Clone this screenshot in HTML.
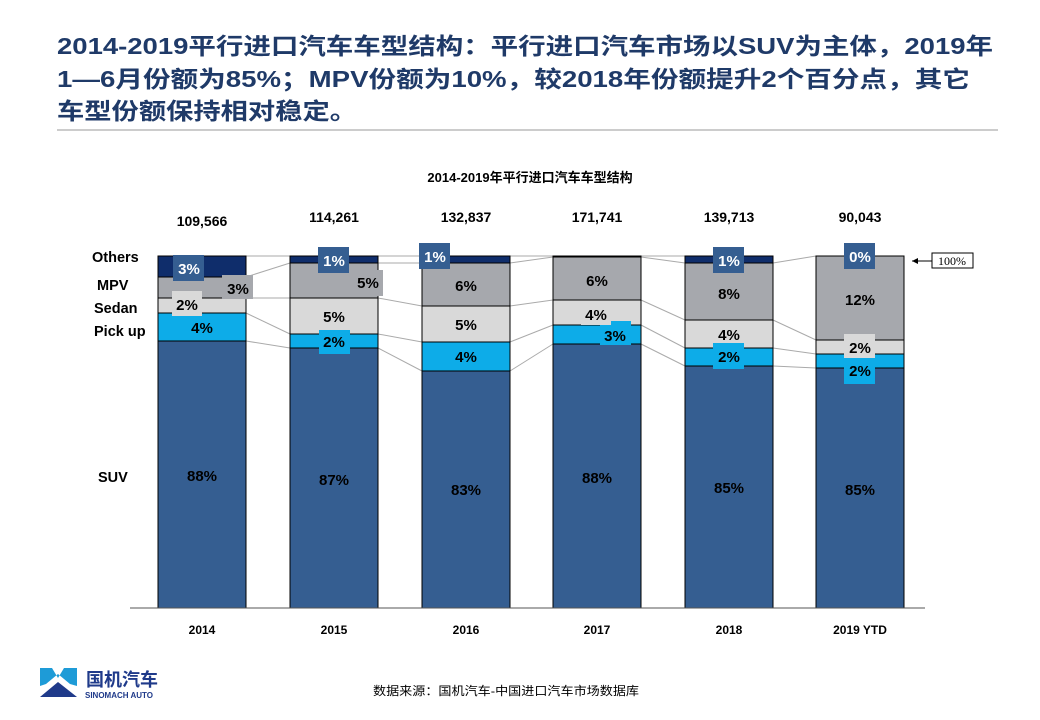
<!DOCTYPE html>
<html><head><meta charset="utf-8"><style>
body{margin:0;background:#fff;}
svg{display:block;font-family:"Liberation Sans","Noto Sans CJK SC",sans-serif;}
</style></head><body>
<svg width="1040" height="720" viewBox="0 0 1040 720">
<g font-size="23" font-weight="bold" fill="#1F3A68">
<text x="57" y="54" textLength="936" lengthAdjust="spacingAndGlyphs">2014-2019平行进口汽车车型结构：平行进口汽车市场以SUV为主体，2019年</text>
<text x="57" y="87" textLength="913" lengthAdjust="spacingAndGlyphs">1—6月份额为85%；MPV份额为10%，较2018年份额提升2个百分点，其它</text>
<text x="57" y="119" textLength="300" lengthAdjust="spacingAndGlyphs">车型份额保持相对稳定。</text>
</g>
<line x1="57" y1="130" x2="998" y2="130" stroke="#999" stroke-width="1"/>
<text x="530" y="182" font-size="13" font-weight="bold" text-anchor="middle">2014-2019年平行进口汽车车型结构</text>
<g font-size="14" font-weight="bold" text-anchor="middle">
<text x="202" y="226">109,566</text><text x="334" y="222">114,261</text><text x="466" y="222">132,837</text>
<text x="597" y="222">171,741</text><text x="729" y="222">139,713</text><text x="860" y="222">90,043</text>
</g>
<g font-size="14.5" font-weight="bold">
<text x="92" y="262">Others</text><text x="97" y="290">MPV</text><text x="94" y="313">Sedan</text><text x="94" y="336">Pick up</text><text x="98" y="482">SUV</text>
</g>
<g stroke="#aaa" stroke-width="1">
<line x1="246" y1="277" x2="290" y2="263"/><line x1="246" y1="298" x2="290" y2="298"/><line x1="246" y1="313" x2="290" y2="334"/><line x1="246" y1="341" x2="290" y2="348"/><line x1="246" y1="256" x2="290" y2="256"/>
<line x1="378" y1="256" x2="422" y2="256"/><line x1="378" y1="263" x2="422" y2="263"/><line x1="378" y1="298" x2="422" y2="306"/><line x1="378" y1="334" x2="422" y2="342"/><line x1="378" y1="348" x2="422" y2="371"/>
<line x1="510" y1="256" x2="553" y2="256"/><line x1="510" y1="263" x2="553" y2="257"/><line x1="510" y1="306" x2="553" y2="300"/><line x1="510" y1="342" x2="553" y2="325"/><line x1="510" y1="371" x2="553" y2="344"/>
<line x1="641" y1="256" x2="685" y2="256"/><line x1="641" y1="257" x2="685" y2="263"/><line x1="641" y1="300" x2="685" y2="320"/><line x1="641" y1="325" x2="685" y2="348"/><line x1="641" y1="344" x2="685" y2="366"/>
<line x1="773" y1="263" x2="816" y2="256"/><line x1="773" y1="320" x2="816" y2="340"/><line x1="773" y1="348" x2="816" y2="354"/><line x1="773" y1="366" x2="816" y2="368"/>
</g>
<g stroke="#000" stroke-width="1">
<rect x="158" y="256" width="88" height="21" fill="#0F2D6B"/><rect x="158" y="277" width="88" height="21" fill="#A6A8AD"/><rect x="158" y="298" width="88" height="15" fill="#D9D9D9"/><rect x="158" y="313" width="88" height="28" fill="#0DACE8"/><rect x="158" y="341" width="88" height="267" fill="#355E91"/>
<rect x="290" y="256" width="88" height="7" fill="#0F2D6B"/><rect x="290" y="263" width="88" height="35" fill="#A6A8AD"/><rect x="290" y="298" width="88" height="36" fill="#D9D9D9"/><rect x="290" y="334" width="88" height="14" fill="#0DACE8"/><rect x="290" y="348" width="88" height="260" fill="#355E91"/>
<rect x="422" y="256" width="88" height="7" fill="#0F2D6B"/><rect x="422" y="263" width="88" height="43" fill="#A6A8AD"/><rect x="422" y="306" width="88" height="36" fill="#D9D9D9"/><rect x="422" y="342" width="88" height="29" fill="#0DACE8"/><rect x="422" y="371" width="88" height="237" fill="#355E91"/>
<rect x="553" y="256" width="88" height="1" fill="#0F2D6B"/><rect x="553" y="257" width="88" height="43" fill="#A6A8AD"/><rect x="553" y="300" width="88" height="25" fill="#D9D9D9"/><rect x="553" y="325" width="88" height="19" fill="#0DACE8"/><rect x="553" y="344" width="88" height="264" fill="#355E91"/>
<rect x="685" y="256" width="88" height="7" fill="#0F2D6B"/><rect x="685" y="263" width="88" height="57" fill="#A6A8AD"/><rect x="685" y="320" width="88" height="28" fill="#D9D9D9"/><rect x="685" y="348" width="88" height="18" fill="#0DACE8"/><rect x="685" y="366" width="88" height="242" fill="#355E91"/>
<rect x="816" y="256" width="88" height="84" fill="#A6A8AD"/><rect x="816" y="340" width="88" height="14" fill="#D9D9D9"/><rect x="816" y="354" width="88" height="14" fill="#0DACE8"/><rect x="816" y="368" width="88" height="240" fill="#355E91"/>
</g>
<line x1="130" y1="608" x2="925" y2="608" stroke="#555"/>
<g>
<rect x="173" y="255" width="31" height="26" fill="#355E91"/><rect x="222" y="275" width="31" height="24" fill="#A6A8AD"/>
<rect x="172" y="291" width="30" height="25" fill="#D9D9D9"/>
<rect x="318" y="247" width="31" height="26" fill="#355E91"/><rect x="352" y="270" width="31" height="26" fill="#A6A8AD"/>
<rect x="319" y="330" width="31" height="24" fill="#0DACE8"/>
<rect x="419" y="243" width="31" height="26" fill="#355E91"/>
<rect x="600" y="321" width="31" height="24" fill="#0DACE8"/><rect x="581" y="303" width="30" height="22" fill="#D9D9D9"/>
<rect x="713" y="247" width="31" height="26" fill="#355E91"/><rect x="713" y="343" width="31" height="26" fill="#0DACE8"/>
<rect x="844" y="243" width="31" height="26" fill="#355E91"/><rect x="844" y="334" width="31" height="27" fill="#D9D9D9"/><rect x="844" y="358" width="31" height="26" fill="#0DACE8"/>
</g>
<g font-size="15" font-weight="bold" text-anchor="middle">
<g fill="#fff"><text x="189" y="274">3%</text><text x="334" y="266">1%</text><text x="435" y="262">1%</text><text x="729" y="266">1%</text><text x="860" y="262">0%</text></g>
<text x="238" y="294">3%</text><text x="187" y="310">2%</text><text x="202" y="333">4%</text><text x="202" y="481">88%</text>
<text x="368" y="288">5%</text><text x="334" y="322">5%</text><text x="334" y="347">2%</text><text x="334" y="485">87%</text>
<text x="466" y="291">6%</text><text x="466" y="330">5%</text><text x="466" y="362">4%</text><text x="466" y="495">83%</text>
<text x="597" y="286">6%</text><text x="596" y="320">4%</text><text x="615" y="341">3%</text><text x="597" y="483">88%</text>
<text x="729" y="299">8%</text><text x="729" y="340">4%</text><text x="729" y="362">2%</text><text x="729" y="493">85%</text>
<text x="860" y="305">12%</text><text x="860" y="353">2%</text><text x="860" y="376">2%</text><text x="860" y="495">85%</text>
</g>
<line x1="912" y1="261" x2="932" y2="261" stroke="#000"/><polygon points="912,261 918,258 918,264" fill="#000"/>
<rect x="932" y="253" width="41" height="15" fill="#fff" stroke="#000"/>
<text x="952" y="265" font-size="12" font-family="Liberation Serif,serif" text-anchor="middle">100%</text>
<g font-size="12" font-weight="bold" text-anchor="middle">
<text x="202" y="634">2014</text><text x="334" y="634">2015</text><text x="466" y="634">2016</text><text x="597" y="634">2017</text><text x="729" y="634">2018</text><text x="860" y="634">2019 YTD</text>
</g>
<polygon points="40,668 52,668 58,678 64,668 77,668 77,686 70,684 58,674 46,684 40,686" fill="#1E9BD7"/>
<polygon points="40,697 58,682 77,697" fill="#1F3A8A"/>
<text x="86" y="686" font-size="18" font-weight="bold" fill="#1F3A8A">国机汽车</text>
<text x="85" y="698" font-size="8" font-weight="bold" fill="#1F3A8A">SINOMACH AUTO</text>
<text x="373" y="695" font-size="12" textLength="266" lengthAdjust="spacingAndGlyphs">数据来源：国机汽车-中国进口汽车市场数据库</text>
</svg>
</body></html>
